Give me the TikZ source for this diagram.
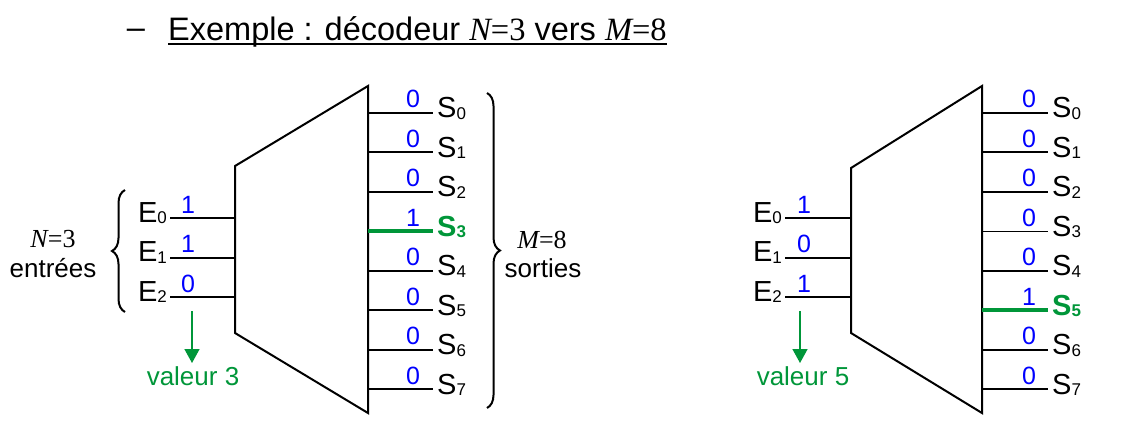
\documentclass[tikz,border=0pt]{standalone}
\usepackage{fontspec}
\setmainfont{Liberation Sans}
\newfontfamily\tms{Liberation Serif}
\usetikzlibrary{arrows.meta,decorations.pathreplacing}
\definecolor{vert}{RGB}{0,150,57}
\definecolor{bleu}{RGB}{0,0,255}
\newcommand{\sbx}[1]{\raisebox{-1.5pt}{\fontsize{17}{17}\selectfont #1}}
\begin{document}
\begin{tikzpicture}[x=1pt,y=-1pt,
  wire/.style={line width=2pt,line cap=butt},
  hot/.style={line width=4pt,draw=vert},
  thin/.style={line width=1.2pt},
  lab/.style={font=\fontsize{29}{29}\selectfont,inner sep=0pt},
  labhot/.style={font=\fontsize{29}{29}\selectfont\bfseries,text=vert,inner sep=0pt},
  val/.style={font=\fontsize{25}{25}\selectfont,text=bleu,inner sep=0pt,anchor=base},
  txt/.style={font=\fontsize{26}{26}\selectfont,inner sep=0pt,anchor=base},
  brc/.style={decorate,decoration={brace,amplitude=13pt},line width=2pt},
  arr/.style={draw=vert,line width=1.5pt,-{Triangle[width=15pt,length=14pt]}},
  body/.style={line width=2pt,line join=miter}]
\useasboundingbox (0,0) rectangle (1143,429);
% title
\node[font=\fontsize{32.5}{32.5}\selectfont,inner sep=0pt,anchor=base] (dash) at (136,38) {–};
\node[font=\fontsize{32.5}{32.5}\selectfont,inner sep=0pt,anchor=base west] (title) at (168,40)
  {Exemple : décodeur {\tms\itshape N}{\tms =3} vers {\tms\itshape M}{\tms =8}};
\draw[line width=1.8pt] ([yshift=-4pt]title.base west) -- ([yshift=-4pt]title.base east);

% ===== left decoder =====
\coordinate (LT1) at (235,166);
\coordinate (LT2) at (368,86);
\coordinate (LT3) at (368,413);
\coordinate (LT4) at (235,333);
\draw[body] (LT1) -- (LT2) -- (LT3) -- (LT4) -- cycle;
\foreach \i/\v in {0/1,1/1,2/0} {
  \pgfmathsetmacro\yy{218+39.5*\i}
  \coordinate (LEa\i) at (170,\yy);
  \coordinate (LEb\i) at (235,\yy);
  \draw[wire] (LEa\i) -- (LEb\i);
  \node[lab,anchor=base east] (LE\i) at (167,\yy+4) {E\sbx{\i}};
  \node[val] (LEv\i) at (188,\yy-5) {\v};
}
\foreach \i/\v/\w/\t in {0/0/wire/lab,1/0/wire/lab,2/0/wire/lab,3/1/hot/labhot,4/0/wire/lab,5/0/wire/lab,6/0/wire/lab,7/0/wire/lab} {
  \pgfmathsetmacro\yy{112.5+39.55*\i}
  \coordinate (LSa\i) at (368,\yy);
  \coordinate (LSb\i) at (433,\yy);
  \draw[\w] (LSa\i) -- (LSb\i);
  \node[\t,anchor=base west] (LS\i) at (437,\yy+5) {S\sbx{\i}};
  \node[val] (LSv\i) at (413,\yy-5) {\v};
}
\coordinate (LB1) at (125,312);
\coordinate (LB2) at (125,190);
\draw[brc] (LB1) -- (LB2);
\node[txt] (LN) at (53,247) {{\tms\itshape N}{\tms =3}};
\node[txt] (Lentrees) at (53,277) {entrées};
\coordinate (RB1) at (487,93);
\coordinate (RB2) at (487,408);
\draw[brc] (RB1) -- (RB2);
\node[txt] (LM) at (542,248) {{\tms\itshape M}{\tms =8}};
\node[txt] (Lsorties) at (543,277) {sorties};
\coordinate (LA) at (192,311);
\node[txt,text=vert] (Lval) at (193,385) {valeur 3};
\coordinate (LAt) at (192,363);
\draw[arr] (LA) -- (LAt);

% ===== right decoder =====
\coordinate (RT1) at (851,168);
\coordinate (RT2) at (982,86);
\coordinate (RT3) at (982,413);
\coordinate (RT4) at (851,333);
\draw[body] (RT1) -- (RT2) -- (RT3) -- (RT4) -- cycle;
\foreach \i/\v in {0/1,1/0,2/1} {
  \pgfmathsetmacro\yy{218+39.5*\i}
  \coordinate (REa\i) at (785,\yy);
  \coordinate (REb\i) at (851,\yy);
  \draw[wire] (REa\i) -- (REb\i);
  \node[lab,anchor=base east] (RE\i) at (782,\yy+4) {E\sbx{\i}};
  \node[val] (REv\i) at (804,\yy-5) {\v};
}
\foreach \i/\v/\w/\t in {0/0/wire/lab,1/0/wire/lab,2/0/wire/lab,3/0/thin/lab,4/0/wire/lab,5/1/hot/labhot,6/0/wire/lab,7/0/wire/lab} {
  \pgfmathsetmacro\yy{112.5+39.55*\i}
  \coordinate (RSa\i) at (982,\yy);
  \coordinate (RSb\i) at (1048,\yy);
  \draw[\w] (RSa\i) -- (RSb\i);
  \node[\t,anchor=base west] (RS\i) at (1052,\yy+5) {S\sbx{\i}};
  \node[val] (RSv\i) at (1029,\yy-5) {\v};
}
\coordinate (RA) at (800,311);
\node[txt,text=vert] (Rval) at (803,385) {valeur 5};
\coordinate (RAt) at (800,363);
\draw[arr] (RA) -- (RAt);
\end{tikzpicture}
\end{document}
